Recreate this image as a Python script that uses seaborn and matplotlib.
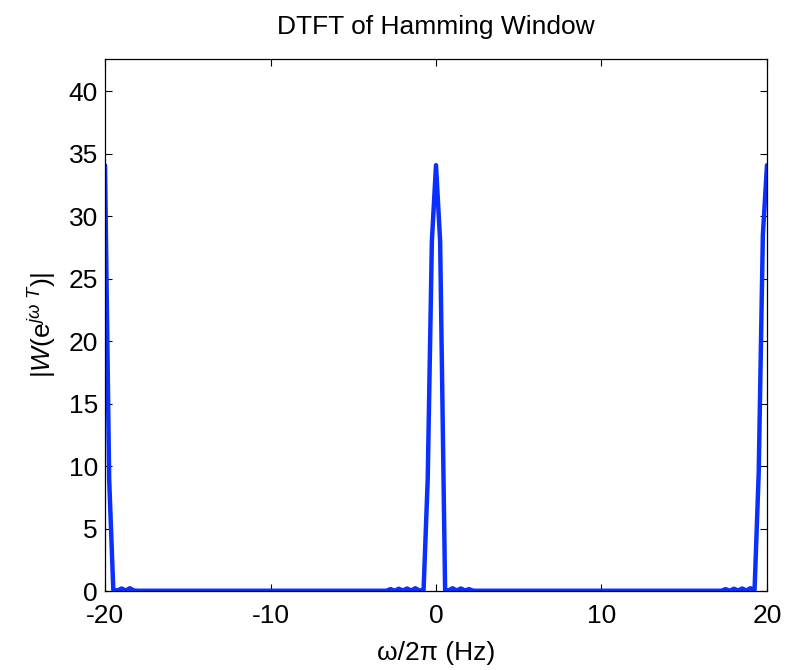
import matplotlib
matplotlib.use("Agg")
import matplotlib.pyplot as plt
import seaborn as sns
import pandas as pd

# Frequency axis (Hz) and magnitude values
freq_hz = [-20.0, -19.75, -19.5, -19.25, -19.0, -18.75, -18.5, -18.25, -18.0,
           -3.0, -2.75, -2.5, -2.25, -2.0, -1.75, -1.5, -1.25, -1.0, -0.75,
           -0.5, -0.25, 0.0, 0.25, 0.55, 0.75, 1.0, 1.25, 1.5, 1.75, 2.0,
           2.25, 2.5,
           17.25, 17.5, 17.75, 18.0, 18.25, 18.5, 18.75, 19.0, 19.25, 19.5,
           19.75, 20.0]
magnitude = [34.1, 9.0, 0.1, 0.04, 0.2, 0.04, 0.22, 0.04, 0.02,
             0.02, 0.15, 0.02, 0.18, 0.04, 0.2, 0.04, 0.22, 0.04, 0.1,
             9.0, 28.0, 34.1, 28.0, 0.1, 0.04, 0.22, 0.04, 0.2, 0.04, 0.15,
             0.02, 0.02,
             0.02, 0.15, 0.02, 0.18, 0.04, 0.2, 0.04, 0.22, 0.1, 9.5,
             28.5, 34.1]

x_ticks = [-20, -10, 0, 10, 20]
y_ticks = [0, 5, 10, 15, 20, 25, 30, 35, 40]

title_text = "DTFT of Hamming Window"
x_label = "ω/2π (Hz)"
y_label = r"|$W$(e$^{j\omega\ T}$)|"

sns.set_theme(style="ticks")
plt.rcParams["font.family"] = ["Liberation Sans", "DejaVu Sans"]
plt.rcParams["mathtext.fontset"] = "custom"
plt.rcParams["mathtext.rm"] = "Liberation Sans"
plt.rcParams["mathtext.it"] = "Liberation Sans:italic"
plt.rcParams["mathtext.default"] = "it"
plt.rcParams["axes.unicode_minus"] = False
plt.rcParams["text.color"] = "black"
plt.rcParams["axes.labelcolor"] = "black"

df = pd.DataFrame({"freq": freq_hz, "mag": magnitude})

fig = plt.figure(figsize=(7.89, 6.70), dpi=100)
ax = fig.add_axes([0.1331, 0.1179, 0.8390, 0.7940])

sns.lineplot(data=df, x="freq", y="mag", ax=ax, color="#0a30ff",
             linewidth=3.2, estimator=None, sort=True)

ax.set_xlim(-20, 20)
ax.set_ylim(0, 42.6)
ax.set_xticks(x_ticks)
ax.set_yticks(y_ticks)
ax.tick_params(axis="both", direction="in", top=True, right=True, length=5,
               width=0.8, labelsize=19, colors="black")
ax.tick_params(axis="x", pad=9)
ax.tick_params(axis="y", pad=5)
for s in ax.spines.values():
    s.set_visible(True)
    s.set_color("black")
    s.set_linewidth(0.9)

ax.set_title(title_text, fontsize=19, pad=18, color="black")
ax.set_xlabel(x_label, fontsize=19, labelpad=10, color="black")
ax.set_ylabel(y_label, fontsize=19, labelpad=8, color="black")

fig.savefig("out.png", dpi=100)
